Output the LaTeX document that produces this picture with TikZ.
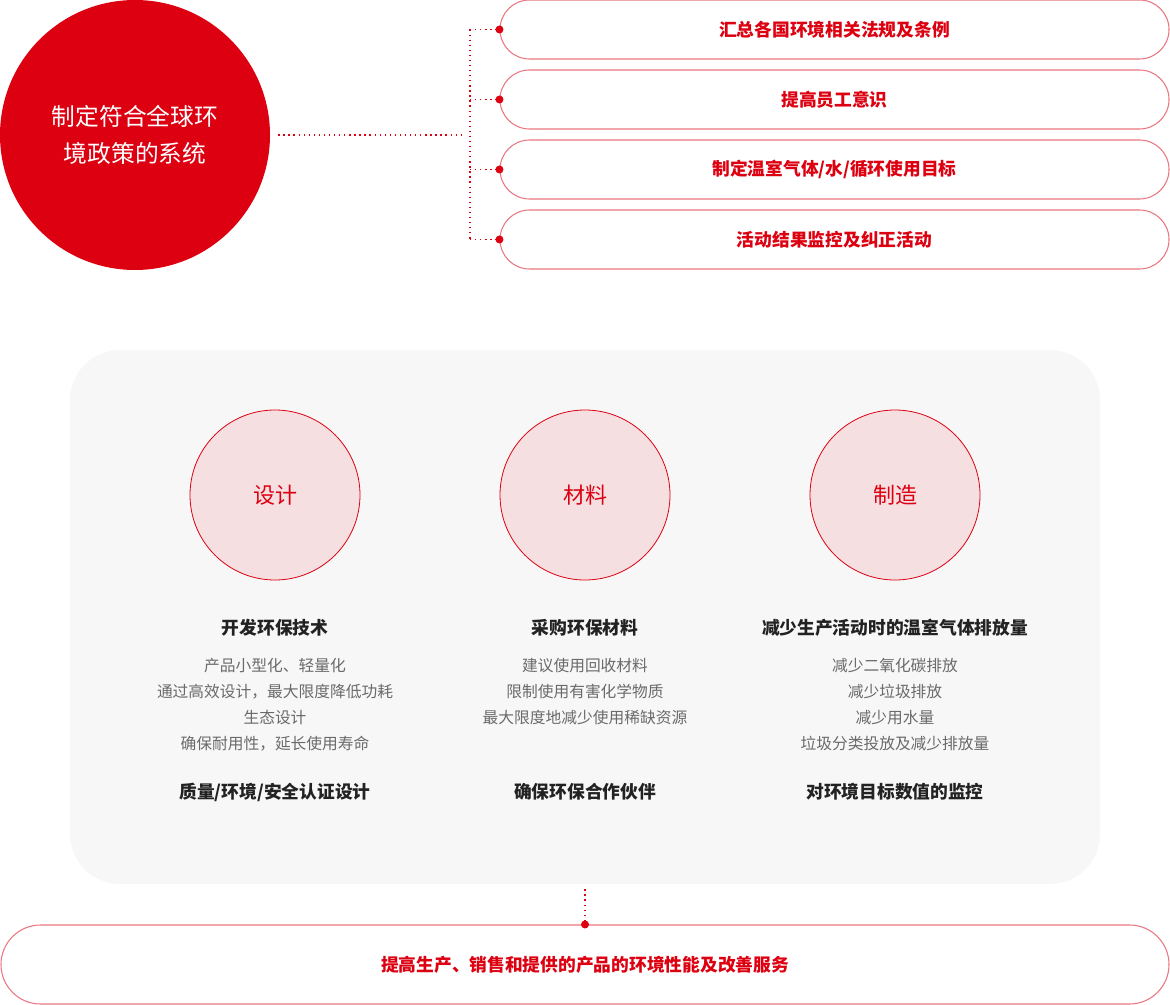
\documentclass[tikz,border=0pt]{standalone}
\usepackage{fontspec}
\setmainfont{Noto Sans CJK SC}
\usetikzlibrary{shapes.misc}
\definecolor{brandred}{HTML}{DC0011}
\definecolor{pillline}{HTML}{EA7781}
\definecolor{panelgray}{HTML}{F7F7F7}
\definecolor{softpink}{HTML}{F5DFE1}
\definecolor{itemgray}{HTML}{6A6A6A}
\definecolor{titleblack}{HTML}{222222}
\tikzset{
    pill/.style={rounded rectangle, draw=pillline, line width=0.8pt, fill=white,
        minimum width=669*0.75pt, minimum height=59*0.75pt, inner sep=0pt,
        text=brandred, font=\fontsize{13.3}{15}\selectfont\bfseries},
    topic/.style={circle, draw=brandred, line width=0.6pt, fill=softpink,
        minimum size=170*0.75pt, inner sep=0pt, text=brandred,
        font=\fontsize{16.5}{18}\selectfont},
    headline/.style={text=titleblack, font=\fontsize{13.3}{15}\selectfont\bfseries},
    itemlist/.style={text=itemgray, align=center,
        font=\fontsize{11.8}{19.5}\selectfont},
    dotline/.style={brandred, line width=1pt, dash pattern=on 1pt off 2.8pt},
    knot/.style={circle, fill=brandred, inner sep=0pt, minimum size=6pt}
}
\begin{document}
\begin{tikzpicture}[x=0.75pt,y=-0.75pt]
    \useasboundingbox (0,0) rectangle (1170,1005);
    % policy circle
    \node[circle, fill=brandred, minimum size=270*0.75pt, inner sep=0pt, text=white,
        align=center, font=\fontsize{17.8}{27.5}\selectfont] (policy) at (135,135)
        {制定符合全球环\\境政策的系统};
    % four policy pills
    \node[pill] (laws) at (834.5,29.5) {汇总各国环境相关法规及条例};
    \node[pill] (aware) at (834.5,99.5) {提高员工意识};
    \node[pill] (target) at (834.5,169.5) {制定温室气体/水/循环使用目标};
    \node[pill] (monitor) at (834.5,239.5) {活动结果监控及纠正活动};
    % dotted tree from the circle to the pills
    \coordinate (branch) at (470,135);
    \draw[dotline] ([xshift=6pt]policy.east) -- ([xshift=-4pt]branch);
    \draw[dotline] (branch |- laws.west) -- (branch |- monitor.west);
    \foreach \p in {laws,aware,target,monitor} {
        \draw[dotline] (branch |- \p.west) -- (\p.west);
        \node[knot] at (\p.west) {};
    }
    % gray panel
    \fill[panelgray, rounded corners=50*0.75pt] (70,350) rectangle (1100,884);
    \coordinate (panelbottom) at (585,884);
    % three topics
    \node[topic] (design) at (275,495) {设计};
    \node[topic] (material) at (585,495) {材料};
    \node[topic] (make) at (895,495) {制造};
    % design column
    \node[headline] (designhead) at (275,628) {开发环保技术};
    \node[itemlist, anchor=north] (designlist) at (275,654)
        {产品小型化、轻量化\\通过高效设计，最大限度降低功耗\\生态设计\\确保耐用性，延长使用寿命};
    \node[headline] (designfoot) at (275,792) {质量/环境/安全认证设计};
    % material column
    \node[headline] (materialhead) at (585,628) {采购环保材料};
    \node[itemlist, anchor=north] (materiallist) at (585,654)
        {建议使用回收材料\\限制使用有害化学物质\\最大限度地减少使用稀缺资源};
    \node[headline] (materialfoot) at (585,792) {确保环保合作伙伴};
    % manufacturing column
    \node[headline] (makehead) at (895,628) {减少生产活动时的温室气体排放量};
    \node[itemlist, anchor=north] (makelist) at (895,654)
        {减少二氧化碳排放\\减少垃圾排放\\减少用水量\\垃圾分类投放及减少排放量};
    \node[headline] (makefoot) at (895,792) {对环境目标数值的监控};
    % bottom pill
    \node[pill, minimum width=1168*0.75pt, minimum height=79*0.75pt] (service) at (585,964.5)
        {提高生产、销售和提供的产品的环境性能及改善服务};
    \draw[dotline] ([yshift=-4pt]panelbottom) -- (service.north);
    \node[knot] at (service.north) {};
\end{tikzpicture}
\end{document}
